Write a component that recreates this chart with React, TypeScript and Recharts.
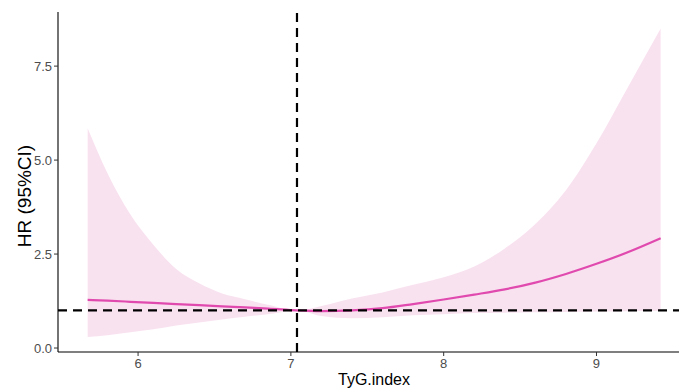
import {
  Area,
  ComposedChart,
  Line,
  ReferenceLine,
  XAxis,
  YAxis,
} from "recharts";

const WIDTH = 679;
const HEIGHT = 389;

// TyG.index grid the spline was evaluated on
const tyg = [
  5.67, 5.8, 5.95, 6.1, 6.25, 6.4, 6.55, 6.7, 6.85, 7.04, 7.2, 7.4, 7.6, 7.8,
  8.0, 8.2, 8.4, 8.6, 8.8, 9.0, 9.2, 9.42,
];
const hr = [
  1.28, 1.26, 1.23, 1.2, 1.17, 1.14, 1.11, 1.08, 1.05, 1.0, 0.98, 1.0, 1.06,
  1.17, 1.29, 1.42, 1.56, 1.74, 1.97, 2.24, 2.54, 2.92,
];
const upper = [
  5.85, 4.65, 3.55, 2.75, 2.1, 1.72, 1.45, 1.3, 1.15, 1.0, 1.12, 1.32, 1.48,
  1.68, 1.88, 2.17, 2.65, 3.3, 4.2, 5.45, 6.9, 8.5,
];
const lower = [
  0.29, 0.34, 0.42, 0.5, 0.6, 0.68, 0.76, 0.83, 0.9, 1.0, 0.85, 0.79, 0.82,
  0.87, 0.9, 0.93, 0.94, 0.95, 0.96, 0.97, 0.98, 0.99,
];

const xTicks = [6, 7, 8, 9];
const yTicks = [0, 2.5, 5, 7.5];
const cutoff = 7.04;
const refHR = 1;

const data = tyg.map((x, i) => ({
  x,
  hr: hr[i],
  ci: [lower[i], upper[i]],
}));

const FONT = "'Liberation Sans', Arial, sans-serif";
const tickStyle = { fontSize: 13, fill: "#4d4d4d", fontFamily: FONT };

// axis titles drawn by hand: ggplot centred them on a panel that runs past
// the right edge of the picture
const YTitle = () => (
  <text
    x={24}
    y={196}
    transform="rotate(-90 24 196)"
    textAnchor="middle"
    dominantBaseline="central"
    fontSize={19}
    fontFamily={FONT}
    fill="#000"
  >
    HR (95%CI)
  </text>
);

const XTitle = () => (
  <text
    x={374}
    y={385}
    textAnchor="middle"
    fontSize={16}
    fontFamily={FONT}
    fill="#000"
  >
    TyG.index
  </text>
);

export default function App() {
  return (
    <div style={{ position: "absolute", left: 0, top: 0, background: "#fff" }}>
      <ComposedChart
        width={WIDTH}
        height={HEIGHT}
        data={data}
        margin={{ top: 12, right: 0, bottom: 0, left: 0 }}
      >
        <XAxis
          dataKey="x"
          type="number"
          height={37}
          domain={[5.476, 9.54]}
          ticks={xTicks}
          tick={tickStyle}
          tickSize={4}
          tickMargin={3}
          axisLine={{ stroke: "#000", strokeWidth: 1.1 }}
          tickLine={{ stroke: "#333" }}
          allowDataOverflow
          label={{ content: () => <XTitle /> }}
        />
        <YAxis
          type="number"
          width={58}
          domain={[-0.106, 8.94]}
          ticks={yTicks}
          tickFormatter={(v: number) => v.toFixed(1)}
          tick={tickStyle}
          tickSize={4}
          tickMargin={2}
          axisLine={{ stroke: "#000", strokeWidth: 1.1 }}
          tickLine={{ stroke: "#333" }}
          allowDataOverflow
          label={{ content: () => <YTitle /> }}
        />
        <Area
          dataKey="ci"
          type="monotone"
          stroke="none"
          fill="#f9e2f0"
          fillOpacity={1}
          isAnimationActive={false}
        />
        <Line
          dataKey="hr"
          type="monotone"
          stroke="#e04aae"
          strokeWidth={2.2}
          dot={false}
          isAnimationActive={false}
        />
        <ReferenceLine
          y={refHR}
          stroke="#000"
          strokeWidth={2.2}
          strokeDasharray="9 6"
        />
        <ReferenceLine
          x={cutoff}
          stroke="#000"
          strokeWidth={2.2}
          strokeDasharray="9 6"
        />
      </ComposedChart>
    </div>
  );
}
